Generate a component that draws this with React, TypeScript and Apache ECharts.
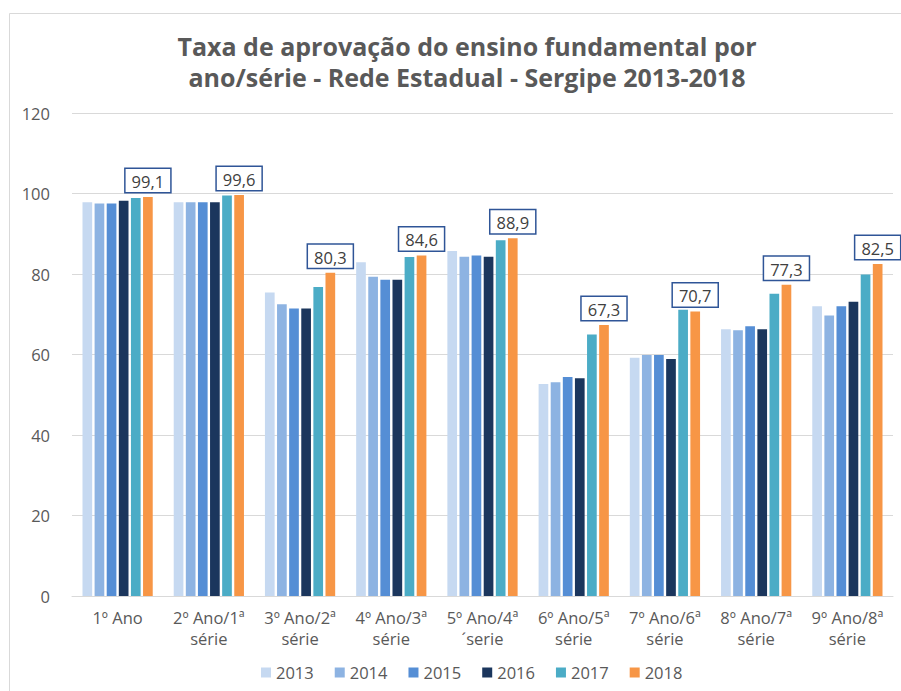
import React, { useEffect, useRef } from "react";
import * as echarts from "echarts";

const categories = [
  "1º Ano",
  "2º Ano/1ª\nsérie",
  "3º Ano/2ª\nsérie",
  "4º Ano/3ª\nsérie",
  "5º Ano/4ª\n´serie",
  "6º Ano/5ª\nsérie",
  "7º Ano/6ª\nsérie",
  "8º Ano/7ª\nsérie",
  "9º Ano/8ª\nsérie",
];

const years = ["2013", "2014", "2015", "2016", "2017", "2018"];

const v2013 = [97.8, 97.8, 75.4, 82.9, 85.7, 52.7, 59.2, 66.3, 72.0];
const v2014 = [97.5, 97.8, 72.5, 79.3, 84.3, 53.1, 59.9, 66.0, 69.7];
const v2015 = [97.5, 97.8, 71.4, 78.6, 84.6, 54.4, 59.9, 67.0, 72.0];
const v2016 = [98.2, 97.8, 71.4, 78.6, 84.3, 54.1, 58.9, 66.3, 73.1];
const v2017 = [98.9, 99.5, 76.8, 84.2, 88.4, 65.0, 71.1, 75.1, 79.9];
const v2018 = [99.1, 99.6, 80.3, 84.6, 88.9, 67.3, 70.7, 77.3, 82.5];

const seriesValues = [v2013, v2014, v2015, v2016, v2017, v2018];
const colors = ["#C6D9F1", "#8DB3E2", "#558ED5", "#1B365D", "#4BACC6", "#F79646"];

const yTicks = { min: 0, max: 120, interval: 20 };

const FONT = "'Open Sans', 'Noto Sans', sans-serif";

export default function App() {
  const ref = useRef<HTMLDivElement>(null);
  useEffect(() => {
    if (!ref.current) return;
    const chart = echarts.init(ref.current, null, { renderer: "svg" });
    const series = years.map((y, i) => ({
      name: y,
      type: "bar",
      data: seriesValues[i],
      barGap: "25%",
      barCategoryGap: "23%",
      itemStyle: { color: colors[i] },
      label:
        i === 5
          ? {
              show: true,
              position: "top",
              distance: 5,
              formatter: (p: any) => String(p.value.toFixed(1)).replace(".", ","),
              backgroundColor: "#ffffff",
              borderColor: "#2F5597",
              borderWidth: 1.5,
              padding: [4, 6, 2, 6],
              fontSize: 16.5,
              fontFamily: FONT,
              color: "#404040",
            }
          : { show: false },
    }));
    chart.setOption({
      animation: false,
      backgroundColor: "#ffffff",
      textStyle: { fontFamily: FONT },
      title: {
        text: "Taxa de aprovação do ensino fundamental por\nano/série - Rede Estadual - Sergipe 2013-2018",
        left: 462,
        textAlign: "center",
        top: 25,
        textStyle: {
          fontFamily: FONT,
          fontSize: 25,
          fontWeight: "bold",
          color: "#595959",
          lineHeight: 31,
        },
      },
      graphic: [
        {
          type: "rect",
          shape: { x: 9.5, y: 13.5, width: 900, height: 700 },
          style: { fill: "none", stroke: "#D9D9D9", lineWidth: 1 },
          silent: true,
          z: -1,
        },
      ],
      legend: {
        data: years,
        bottom: 5,
        left: 256,
        icon: "rect",
        itemWidth: 10,
        itemHeight: 10,
        itemGap: 21,
        textStyle: { fontFamily: FONT, fontSize: 16.5, color: "#595959" },
      },
      grid: { left: 72, right: 8, top: 113, bottom: 95, containLabel: false },
      xAxis: {
        type: "category",
        data: categories,
        axisLine: { lineStyle: { color: "#D9D9D9" } },
        axisTick: { show: false },
        axisLabel: {
          interval: 0,
          margin: 11,
          fontSize: 16.5,
          lineHeight: 21,
          color: "#595959",
          fontFamily: FONT,
        },
      },
      yAxis: {
        type: "value",
        min: yTicks.min,
        max: yTicks.max,
        interval: yTicks.interval,
        axisLine: { show: false },
        axisTick: { show: false },
        splitLine: { lineStyle: { color: "#D9D9D9" } },
        axisLabel: { margin: 22, fontSize: 16.5, color: "#595959", fontFamily: FONT },
      },
      series,
    });
    return () => chart.dispose();
  }, []);
  return (
    <div
      ref={ref}
      style={{ position: "fixed", left: 0, top: 0, width: 901, height: 691, background: "#fff" }}
    />
  );
}
